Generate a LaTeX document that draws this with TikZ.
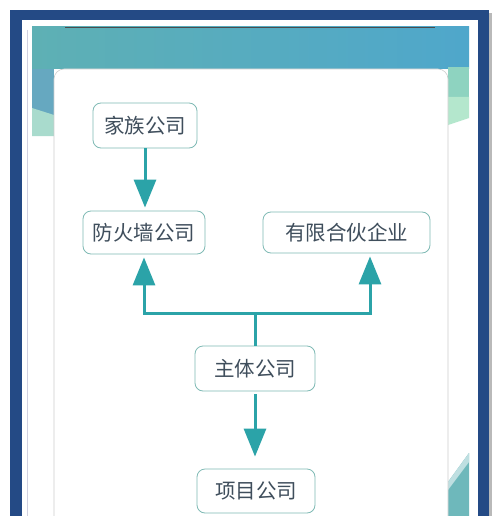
\documentclass[tikz,border=0pt]{standalone}
\usepackage{fontspec}
\newfontfamily\cjk{Noto Sans CJK SC}
\usetikzlibrary{arrows.meta,positioning,calc}
\definecolor{framecol}{HTML}{244A85}
\definecolor{tealtop}{HTML}{5EB0B4}
\definecolor{bluetop}{HTML}{4FA7CB}
\definecolor{sideblue}{HTML}{66A8C0}
\definecolor{sidemint}{HTML}{A9DBCD}
\definecolor{sidegreen}{HTML}{8ED3C0}
\definecolor{lightmint}{HTML}{B4E7CD}
\definecolor{boxline}{HTML}{7FBAB5}
\definecolor{arrowcol}{HTML}{2BA3A8}
\definecolor{textcol}{HTML}{3F4E5C}
\begin{document}
\begin{tikzpicture}[x=1pt,y=-1pt,
        firm/.style={draw=boxline,line width=0.8pt,rounded corners=8pt,fill=white,
            text=textcol,font=\cjk\fontsize{20.5}{24}\selectfont,inner sep=0pt},
        link/.style={draw=arrowcol,line width=3pt},
        linkarrow/.style={link,-{Triangle[width=22pt,length=28pt]},shorten >=3pt}]
    \useasboundingbox (0,0) rectangle (500,516);
    \fill[white] (0,0) rectangle (500,516);
    % frame
    \fill[gray!55] (489,13) rectangle (492,516);
    \fill[framecol] (10,10) rectangle (489,516);
    \fill[white] (22,20) rectangle (478,516);
    \draw[blue!20!gray!30,line width=0.8pt] (27,30) -- (27,516);
    % coloured band
    \shade[left color=tealtop,right color=bluetop] (32,27) rectangle (469,69);
    \fill[sideblue] (32,69) rectangle (54,116);
    \fill[sidemint] (32,108) -- (54,115) -- (54,136) -- (32,136) -- cycle;
    \fill[sidegreen] (448,67) rectangle (469,97);
    \fill[lightmint] (448,97) -- (469,97) -- (469,118) -- (448,125) -- cycle;
    \draw[black!70,line width=0.8pt] (65,27) -- (435,27);
    \fill[tealtop!90!white] (448,482) -- (469,453) -- (469,516) -- (448,516) -- cycle;
    \fill[tealtop!40!white] (448,482) -- (469,453) -- (469,462) -- (448,490) -- cycle;
    % card
    \filldraw[fill=white,draw=gray!40,line width=0.6pt,rounded corners=10pt]
        (54,530) -- (54,69) -- (448,69) -- (448,530);

    \node[firm,minimum width=104pt,minimum height=45pt] (family) at (145,125.5) {家族公司};
    \node[firm,minimum width=122pt,minimum height=43pt] (firewall) at (144,232.5) {防火墙公司};
    \node[firm,minimum width=167pt,minimum height=41pt] (lp) at (346.5,232.5) {有限合伙企业};
    \node[firm,minimum width=120pt,minimum height=45pt] (main) at (255,368.5) {主体公司};
    \node[firm,minimum width=118pt,minimum height=44pt] (project) at (256,491) {项目公司};

    \coordinate (fork) at (main.north |- 0,313);
    \draw[linkarrow] (family) -- (family |- firewall.north);
    \draw[link] (main.north) -- (fork);
    \draw[linkarrow] (fork) -| (firewall.south);
    \draw[linkarrow] (fork) -| ([xshift=23.5pt]lp.south);
    \draw[linkarrow,shorten <=3pt,shorten >=12pt] (main.south) -- (project.north -| main.south);
\end{tikzpicture}
\end{document}
